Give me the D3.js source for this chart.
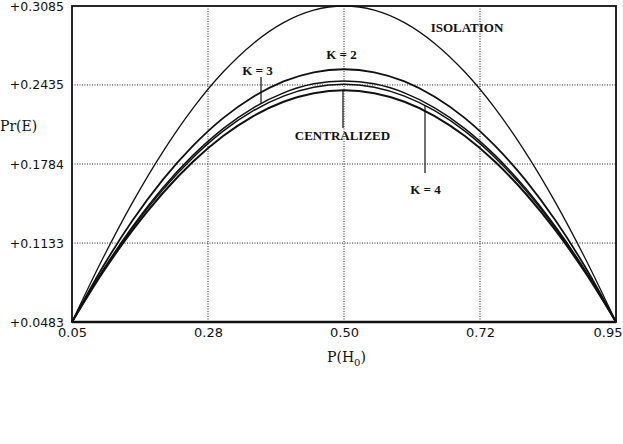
<!DOCTYPE html>
<html>
<head>
<meta charset="utf-8">
<script src="https://cdn.jsdelivr.net/npm/d3@7"></script>
<style>
  html, body { margin: 0; padding: 0; background: #fff; }
  svg { display: block; }
</style>
</head>
<body>
<svg id="chart" width="623" height="444"></svg>
<script>
// ---- data ----
const pH0 = [0.05, 0.10, 0.15, 0.20, 0.25, 0.30, 0.35, 0.40, 0.45, 0.50,
             0.55, 0.60, 0.65, 0.70, 0.75, 0.80, 0.85, 0.90, 0.95];
const isolation   = [0.0483, 0.0997, 0.1466, 0.1882, 0.2242, 0.2541, 0.2777, 0.2948, 0.3051, 0.3085,
                     0.3051, 0.2948, 0.2777, 0.2541, 0.2242, 0.1882, 0.1466, 0.0997, 0.0483];
const k2          = [0.0483, 0.0928, 0.1318, 0.1653, 0.1933, 0.2162, 0.2338, 0.2464, 0.2539, 0.2564,
                     0.2539, 0.2464, 0.2338, 0.2162, 0.1933, 0.1653, 0.1318, 0.0928, 0.0483];
const k3          = [0.0483, 0.0900, 0.1267, 0.1586, 0.1855, 0.2076, 0.2247, 0.2370, 0.2444, 0.2468,
                     0.2444, 0.2370, 0.2247, 0.2076, 0.1855, 0.1586, 0.1267, 0.0900, 0.0483];
const k4          = [0.0483, 0.0894, 0.1257, 0.1571, 0.1836, 0.2054, 0.2223, 0.2343, 0.2416, 0.2440,
                     0.2416, 0.2343, 0.2223, 0.2054, 0.1836, 0.1571, 0.1257, 0.0894, 0.0483];
const centralized = [0.0483, 0.0884, 0.1237, 0.1543, 0.1802, 0.2014, 0.2179, 0.2297, 0.2367, 0.2391,
                     0.2367, 0.2297, 0.2179, 0.2014, 0.1802, 0.1543, 0.1237, 0.0884, 0.0483];

const xTicks = [0.05, 0.275, 0.50, 0.725, 0.95];
const xTickLabels = ["0.05", "0.28", "0.50", "0.72", "0.95"];
const yTicks = [0.0483, 0.1133, 0.1784, 0.2435, 0.3085];
const yTickLabels = ["+0.0483", "+0.1133", "+0.1784", "+0.2435", "+0.3085"];

const seriesNames = ["ISOLATION", "K = 2", "K = 3", "K = 4", "CENTRALIZED"];
const seriesValues = [isolation, k2, k3, k4, centralized];

// ---- layout ----
const mLeft = 72, mRight = 616, mTop = 6, mBottom = 322;
const svg = d3.select("#chart");

const x = d3.scaleLinear().domain([0.05, 0.95]).range([mLeft, mRight]);
const y = d3.scaleLinear().domain([0.0483, 0.3085]).range([mBottom, mTop]);

// gridlines (dotted)
const grid = svg.append("g");
grid.selectAll("line.vg").data(xTicks.slice(1, -1)).enter().append("line")
  .attr("x1", d => x(d)).attr("x2", d => x(d))
  .attr("y1", mTop).attr("y2", mBottom)
  .attr("stroke", "#222").attr("stroke-width", 1).attr("stroke-dasharray", "1,1.5");
grid.selectAll("line.hg").data(yTicks.slice(1, -1)).enter().append("line")
  .attr("x1", mLeft).attr("x2", mRight)
  .attr("y1", d => y(d)).attr("y2", d => y(d))
  .attr("stroke", "#222").attr("stroke-width", 1).attr("stroke-dasharray", "1,1.5");

// curves
const line = d3.line()
  .x((d, i) => x(pH0[i]))
  .y(d => y(d))
  .curve(d3.curveMonotoneX);
const widths = [1.3, 1.8, 1.5, 1.5, 2.0];
svg.append("g").selectAll("path").data(seriesValues).enter().append("path")
  .attr("d", d => line(d))
  .attr("fill", "none")
  .attr("stroke", "#111")
  .attr("stroke-width", (d, i) => widths[i])
  .attr("stroke-linejoin", "round");

// frame
svg.append("rect")
  .attr("x", mLeft).attr("y", mTop)
  .attr("width", mRight - mLeft).attr("height", mBottom - mTop)
  .attr("fill", "none").attr("stroke", "#111").attr("stroke-width", 1.8);
svg.append("line")
  .attr("x1", mLeft).attr("x2", mRight).attr("y1", mBottom).attr("y2", mBottom)
  .attr("stroke", "#111").attr("stroke-width", 2.6);

// axes
const yAxis = d3.axisLeft(y).tickValues(yTicks).tickSize(0).tickPadding(8)
  .tickFormat((d, i) => yTickLabels[i]);
const gy = svg.append("g").attr("transform", `translate(${mLeft},0)`).call(yAxis);
gy.select(".domain").remove();
gy.selectAll("text")
  .attr("font-family", "DejaVu Sans, sans-serif")
  .attr("font-size", 12.5).attr("fill", "#111");

const xAxis = d3.axisBottom(x).tickValues(xTicks).tickSize(0).tickPadding(6)
  .tickFormat((d, i) => xTickLabels[i]);
const gx = svg.append("g").attr("transform", `translate(0,${mBottom})`).call(xAxis);
gx.select(".domain").remove();
gx.selectAll("text")
  .attr("font-family", "DejaVu Sans, sans-serif")
  .attr("font-size", 13).attr("fill", "#111");
// keep the last label inside the window
gx.selectAll(".tick").filter((d, i) => i === xTicks.length - 1).select("text")
  .attr("text-anchor", "end").attr("x", 6);

// axis titles
svg.append("text")
  .attr("x", 0).attr("y", 131)
  .attr("font-family", "DejaVu Serif, serif").attr("font-size", 14).attr("fill", "#111")
  .text("Pr(E)");
const xt = svg.append("text")
  .attr("x", 327).attr("y", 362)
  .attr("font-family", "DejaVu Serif, serif").attr("font-size", 14).attr("fill", "#111");
xt.append("tspan").text("P(H");
xt.append("tspan").attr("font-size", 10).attr("dy", 4).text("0");
xt.append("tspan").attr("dy", -4).text(")");

// annotations
function valueAt(series, p) {
  const i = d3.bisectLeft(pH0, p);
  if (i <= 0) return series[0];
  const t = (p - pH0[i - 1]) / (pH0[i] - pH0[i - 1]);
  return series[i - 1] + t * (series[i] - series[i - 1]);
}
const lblFont = "Liberation Serif, Times New Roman, serif";
// label positions expressed in data space (label centre)
const lblPos = [
  { p: 0.7035, v: 0.2908 },   // ISOLATION
  { p: 0.4959, v: 0.2690 },   // K = 2
  { p: 0.3569, v: 0.2558 },   // K = 3
  { p: 0.6348, v: 0.1578 },   // K = 4
  { p: 0.4975, v: 0.2019 }    // CENTRALIZED
];
svg.append("g").selectAll("text").data(lblPos).enter().append("text")
  .attr("x", d => x(d.p)).attr("y", d => y(d.v))
  .attr("dy", "0.35em")
  .attr("text-anchor", "middle")
  .attr("font-family", lblFont).attr("font-weight", "bold")
  .attr("font-size", 13).attr("fill", "#111")
  .text((d, i) => seriesNames[i]);

// pointer lines: from label toward the curve
const pointers = [
  { s: 2, p: 0.3627, from: 0.2500 },  // K = 3 pointer
  { s: 4, p: 0.4983, from: 0.2080 },  // CENTRALIZED pointer
  { s: 3, p: 0.6340, from: 0.1710 }   // K = 4 pointer
];
svg.append("g").selectAll("line").data(pointers).enter().append("line")
  .attr("x1", d => x(d.p)).attr("x2", d => x(d.p))
  .attr("y1", d => y(d.from)).attr("y2", d => y(valueAt(seriesValues[d.s], d.p)))
  .attr("stroke", "#111").attr("stroke-width", 1.2);
</script>
</body>
</html>
